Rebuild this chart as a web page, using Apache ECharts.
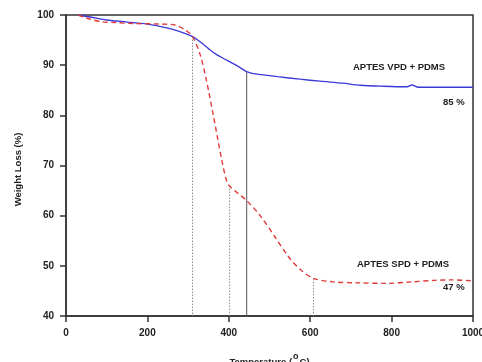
<!DOCTYPE html>
<html><head><meta charset="utf-8">
<script src="https://cdn.jsdelivr.net/npm/echarts@6/dist/echarts.min.js"></script>
<style>html,body{margin:0;padding:0;background:#fff}#c{width:482px;height:362px}</style>
</head><body><div id="c"></div>
<script>
const xTicks = [0, 200, 400, 600, 800, 1000];
const yTicks = [40, 50, 60, 70, 80, 90, 100];
const vpdSeries = [[30,100],[60,99.6],[100,99.0],[150,98.6],[200,98.2],[250,97.4],[280,96.7],[311,95.7],[330,94.6],[350,93.3],[370,92.1],[395,91],[420,89.9],[444,88.7],[460,88.3],[480,88.1],[520,87.7],[575,87.2],[624,86.8],[680,86.4],[723,86.0],[780,85.8],[838,85.7],[850,86.05],[866,85.6],[920,85.6],[1000,85.6]];
const spdSeries = [[30,100],[50,99.4],[84,98.7],[120,98.5],[165,98.3],[231,98.2],[268,98.0],[293,97.0],[311,95.7],[330,92],[345,87],[362,80],[383,71],[395,66.8],[402,65.9],[420,64.6],[444,63],[477,60],[514,55.7],[545,52],[575,49.3],[608,47.5],[657,46.8],[720,46.6],[789,46.5],[850,46.8],[903,47.1],[950,47.2],[1000,47.0]];
const refTemps = [311, 402, 444, 608];
const refTops = [95.7, 66, 88.7, 47.4];
const refSolid = [false, false, true, false];
const labelsText = ['APTES VPD + PDMS', '85 %', 'APTES SPD + PDMS', '47 %'];

const chart = echarts.init(document.getElementById('c'), null, {renderer:'canvas'});
const font = 'Liberation Sans, Arial, sans-serif';
const refSeries = refTemps.map((t, i) => ({
  type: 'line', data: [[t, refTops[i]], [t, 40]], symbol: 'none', silent: true,
  lineStyle: { color: refSolid[i] ? '#555' : '#888', width: 1, type: refSolid[i] ? 'solid' : [1.5, 1.5] }, z: 1
}));
chart.setOption({
  animation: false,
  grid: { left: 66, right: 9, top: 15, bottom: 46, show: true, borderColor: '#333', borderWidth: 1.5, backgroundColor: 'transparent', containLabel: false, outerBoundsMode: 'none' },
  xAxis: {
    type: 'value', min: 0, max: 1000, interval: 200,
    name: '{a|Temperature (}{s|o}{a|C)}', nameLocation: 'middle', nameGap: 35,
    nameTextStyle: { rich: { a: { fontFamily: font, fontWeight: 'bold', fontSize: 9.5, color: '#222', padding:[6,0,0,0] }, s: { fontFamily: font, fontWeight: 'bold', fontSize: 9, color: '#222', padding:[0,1,4,1] } } },
    axisLine: { show: true, lineStyle: { color: '#333', width: 1.5 } },
    axisTick: { show: true, inside: false, length: 6, lineStyle: { color: '#333', width: 1.5 } },
    axisLabel: { fontFamily: font, fontWeight: 'bold', fontSize: 10, color: '#222', margin: 12, formatter: v => xTicks.includes(v) ? String(v) : '' },
    splitLine: { show: false }
  },
  yAxis: {
    type: 'value', min: 40, max: 100, interval: 10,
    name: 'Weight Loss (%)', nameLocation: 'middle', nameGap: 43,
    nameTextStyle: { fontFamily: font, fontWeight: 'bold', fontSize: 9.5, color: '#222', padding: [0, 8, 0, 0] },
    axisLine: { show: true, lineStyle: { color: '#333', width: 1.5 } },
    axisTick: { show: true, length: 6, lineStyle: { color: '#333', width: 1.5 } },
    axisLabel: { fontFamily: font, fontWeight: 'bold', fontSize: 10, color: '#222', margin: 12, formatter: v => yTicks.includes(v) ? String(v) : '' },
    splitLine: { show: false }
  },
  series: refSeries.concat([
    { type: 'line', data: vpdSeries, smooth: 0.3, symbol: 'none', lineStyle: { color: '#3a3ad8', width: 1.3 }, z: 3 },
    { type: 'line', data: spdSeries, smooth: 0.3, symbol: 'none', lineStyle: { color: '#e03a3a', width: 1.4, type: [5, 3.5] }, z: 3 }
  ]),
  graphic: [
    { type: 'text', left: 353, top: 62, style: { text: labelsText[0], font: 'bold 9.5px ' + font, fill: '#222' } },
    { type: 'text', left: 443, top: 97, style: { text: labelsText[1], font: 'bold 9.5px ' + font, fill: '#222' } },
    { type: 'text', left: 357, top: 259, style: { text: labelsText[2], font: 'bold 9.5px ' + font, fill: '#222' } },
    { type: 'text', left: 443, top: 282, style: { text: labelsText[3], font: 'bold 9.5px ' + font, fill: '#222' } }
  ]
});
</script></body></html>
